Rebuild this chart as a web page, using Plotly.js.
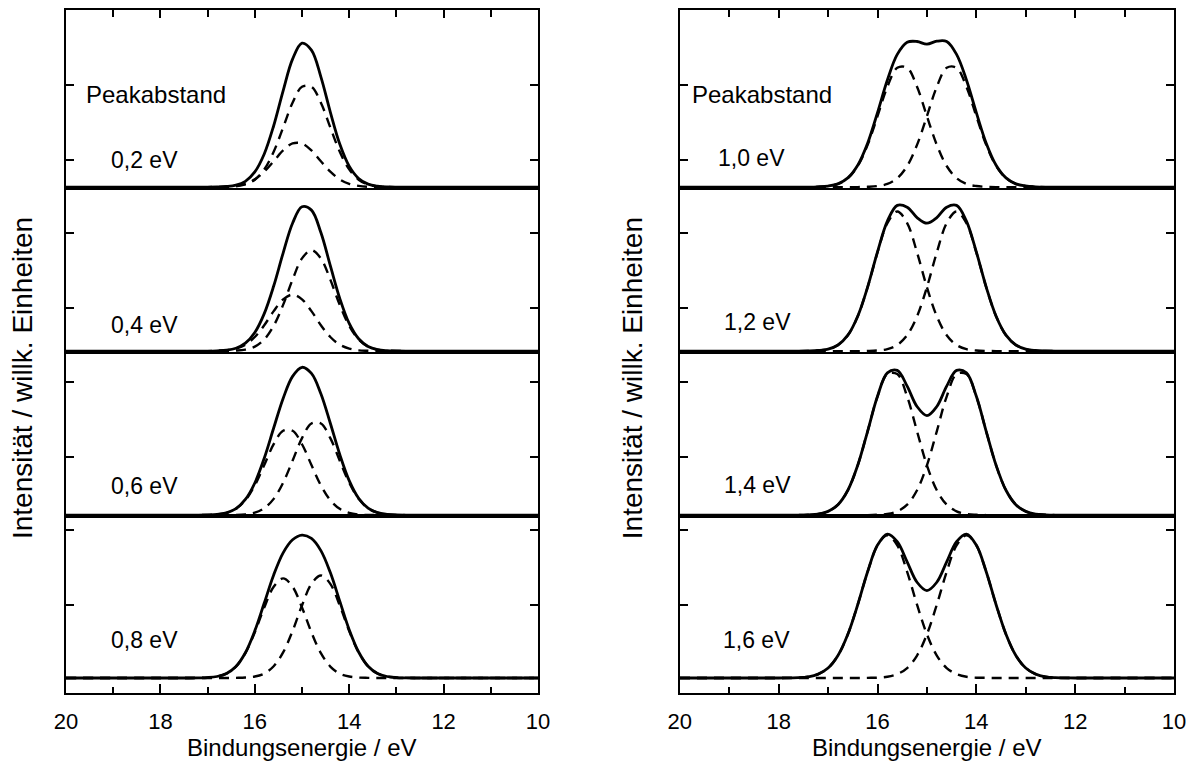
<!DOCTYPE html>
<html>
<head>
<meta charset="utf-8">
<script src="https://cdn.plot.ly/plotly-3.0.1.min.js"></script>
<style>html,body{margin:0;padding:0;background:#fff}#chart{width:1201px;height:770px}</style>
</head>
<body>
<div id="chart"></div>
<script>
// Binding energy grid (eV)
const energy = [20, 18, 17.6, 17.4, 17.2, 17.0, 16.8, 16.6, 16.4, 16.2, 16.0, 15.8, 15.6, 15.4, 15.2, 15.0, 14.8, 14.6, 14.4, 14.2, 14.0, 13.8, 13.6, 13.4, 13.2, 13.0, 12.8, 12.6, 12.4, 12, 10];

// Peak separations (labels)
const separationLabels = ["0,2 eV", "0,4 eV", "0,6 eV", "0,8 eV", "1,0 eV", "1,2 eV", "1,4 eV", "1,6 eV"];

// Sum spectra (solid) and the two component peaks (dashed), arbitrary units
const sum02 = [0,0,0,0,0,0,0.1,0.4,1.3,3.9,10.2,22.3,41.3,64.8,86.1,96.9,92.2,74.2,50.5,29.0,14.1,5.8,2.0,0.6,0.1,0,0,0,0,0,0];
const compA02 = [0,0,0,0,0,0,0,0.1,0.5,1.8,5.0,11.9,23.8,40.1,56.8,67.5,67.5,56.8,40.1,23.8,11.9,5.0,1.8,0.5,0.1,0,0,0,0,0,0];
const compB02 = [0,0,0,0,0,0,0.1,0.2,0.8,2.2,5.2,10.4,17.4,24.7,29.4,29.4,24.7,17.4,10.4,5.2,2.2,0.8,0.2,0.1,0,0,0,0,0,0,0];

const sum04 = [0,0,0,0,0,0,0.2,0.6,1.9,5.3,12.5,25.2,43.8,66.0,86.1,97.2,94.9,79.8,57.5,35.5,18.6,8.3,3.1,1.0,0.3,0.1,0,0,0,0,0];
const compA04 = [0,0,0,0,0,0,0,0.1,0.3,1.0,3.0,7.8,17.0,31.1,48.1,62.4,68.0,62.4,48.1,31.1,17.0,7.8,3.0,1.0,0.3,0.1,0,0,0,0,0];
const compB04 = [0,0,0,0,0,0,0.2,0.5,1.7,4.3,9.5,17.4,26.9,34.8,38.0,34.8,26.9,17.4,9.5,4.3,1.7,0.5,0.2,0,0,0,0,0,0,0,0];

const sum06 = [0,0,0,0,0,0.1,0.4,1.5,4.3,10.5,21.6,38.3,58.6,78.5,93.4,99.5,95.4,81.7,61.8,40.8,23.2,11.3,4.7,1.6,0.5,0.1,0,0,0,0,0];
const compA06 = [0,0,0,0,0,0,0,0,0.1,0.5,1.6,4.6,10.9,21.8,36.6,51.8,61.7,61.7,51.8,36.6,21.8,10.9,4.6,1.6,0.5,0.1,0,0,0,0,0];
const compB06 = [0,0,0,0,0,0.1,0.4,1.5,4.2,10.0,20.0,33.7,47.7,56.8,56.8,47.7,33.7,20.0,10.0,4.2,1.5,0.4,0.1,0,0,0,0,0,0,0,0];

const sum08 = [0,0,0,0,0.1,0.3,1.0,3.0,7.7,17.0,31.7,50.4,69.3,84.2,93.0,96.1,93.9,85.7,70.9,51.7,32.5,17.5,7.9,3.0,1.0,0.3,0.1,0,0,0,0];
const compA08 = [0,0,0,0,0.1,0.3,1.0,2.9,7.7,16.7,30.7,47.4,61.4,67.0,61.4,47.4,30.7,16.7,7.7,2.9,1.0,0.3,0.1,0,0,0,0,0,0,0,0];
const compB08 = [0,0,0,0,0,0,0,0,0.1,0.3,1.0,3.0,7.9,17.2,31.6,48.8,63.3,69.0,63.3,48.8,31.6,17.2,7.9,3.0,1.0,0.3,0.1,0,0,0,0];

const sum10 = [0,0,0,0,0.2,0.7,2.2,6.2,14.7,29.5,50.1,72.1,89.3,97.5,98.0,96.2,98.2,98.0,89.3,72.1,50.1,29.5,14.7,6.2,2.2,0.7,0.2,0,0,0,0];
const compA10 = [0,0,0,0,0.2,0.7,2.1,6.0,14.2,28.4,47.7,67.5,80.3,80.3,67.5,47.7,28.4,14.2,6.0,2.1,0.7,0.2,0,0,0,0,0,0,0,0,0];
const compB10 = [0,0,0,0,0,0,0,0,0,0.2,0.7,2.1,6.0,14.2,28.4,47.7,67.5,80.3,80.3,67.5,47.7,28.4,14.2,6.0,2.1,0.7,0.2,0,0,0,0];

const sum12 = [0,0,0,0.1,0.4,1.3,4.1,10.7,23.5,43.1,66.8,87.5,98.1,96.9,89.9,86.1,89.9,96.9,98.1,87.5,66.8,43.1,23.5,10.7,4.1,1.3,0.4,0.1,0,0,0];
const compA12 = [0,0,0,0.1,0.4,1.3,4.1,10.7,23.4,43.0,66.4,86.2,94.0,86.2,66.4,43.0,23.4,10.7,4.1,1.3,0.4,0.1,0,0,0,0,0,0,0,0,0];
const compB12 = [0,0,0,0,0,0,0,0,0,0.1,0.4,1.3,4.1,10.7,23.4,43.0,66.4,86.2,94.0,86.2,66.4,43.0,23.4,10.7,4.1,1.3,0.4,0.1,0,0,0];

const sum14 = [0,0,0,0.2,0.7,2.5,7.0,16.7,33.5,56.4,80.0,95.7,97.4,86.8,73.1,67.0,73.1,86.8,97.4,95.7,80.0,56.4,33.5,16.7,7.0,2.5,0.7,0.2,0,0,0];
const compA14 = [0,0,0,0.2,0.7,2.5,7.0,16.7,33.5,56.4,79.8,94.9,94.9,79.8,56.4,33.5,16.7,7.0,2.5,0.7,0.2,0,0,0,0,0,0,0,0,0,0];
const compB14 = [0,0,0,0,0,0,0,0,0,0,0.2,0.7,2.5,7.0,16.7,33.5,56.4,79.8,94.9,94.9,79.8,56.4,33.5,16.7,7.0,2.5,0.7,0.2,0,0,0];

const sum16 = [0,0,0.2,0.8,2.6,6.7,15.1,29.4,49.3,71.5,89.4,96.8,91.7,78.1,64.4,58.8,64.4,78.1,91.7,96.8,89.4,71.5,49.3,29.4,15.1,6.7,2.6,0.8,0.2,0,0];
const compA16 = [0,0,0.2,0.8,2.6,6.7,15.1,29.4,49.3,71.4,89.2,96.0,89.2,71.4,49.3,29.4,15.1,6.7,2.6,0.8,0.2,0.1,0,0,0,0,0,0,0,0,0];
const compB16 = [0,0,0,0,0,0,0,0,0,0.1,0.2,0.8,2.6,6.7,15.1,29.4,49.3,71.4,89.2,96.0,89.2,71.4,49.3,29.4,15.1,6.7,2.6,0.8,0.2,0,0];

const sums = [sum02, sum04, sum06, sum08, sum10, sum12, sum14, sum16];
const compsA = [compA02, compA04, compA06, compA08, compA10, compA12, compA14, compA16];
const compsB = [compB02, compB04, compB06, compB08, compB10, compB12, compB14, compB16];

// Text
const xTitle = "Bindungsenergie / eV";
const yTitle = "Intensität / willk. Einheiten";
const headerText = "Peakabstand";
const xTickVals = [20, 18, 16, 14, 12, 10];

// ---------- layout / styling ----------
const FONT = "Liberation Sans, Arial, Helvetica, sans-serif";
const colDomains = [[0, 0.426], [0.554, 1]];
const rowDomains = [[0.7394, 1], [0.4993, 0.7394], [0.2592, 0.4993], [0, 0.2592]];
const rowRanges = [[-0.6, 119.2], [-0.6, 109.8], [-0.6, 109.8], [-10.1, 109.0]];
const rowTicks = [[18.2, 68.7], [29.0, 79.5], [39.1, 89.6], [49.1, 99.6]];
const labelX = [18.33, 18.33, 18.33, 18.33, 18.54, 18.42, 18.42, 18.44];
const labelY = [18.2, 17.6, 19.6, 25.6, 19.6, 19.6, 20.3, 25.6];

const traces = [];
const layout = {
  width: 1201, height: 770,
  margin: {l: 66, r: 27, t: 10, b: 77},
  paper_bgcolor: "#fff", plot_bgcolor: "#fff",
  showlegend: false,
  font: {family: FONT, color: "#000"},
  annotations: []
};

for (let i = 0; i < 8; i++) {
  const col = i < 4 ? 0 : 1;
  const row = i % 4;
  const n = i + 1;
  const xa = "x" + n, ya = "y" + n;
  traces.push({x: energy, y: compsA[i], xaxis: xa, yaxis: ya, type: "scatter", mode: "lines",
    line: {color: "#000", width: 2.4, dash: "10px,7px", shape: "spline", smoothing: 1}, hoverinfo: "skip"});
  traces.push({x: energy, y: compsB[i], xaxis: xa, yaxis: ya, type: "scatter", mode: "lines",
    line: {color: "#000", width: 2.4, dash: "10px,7px", shape: "spline", smoothing: 1}, hoverinfo: "skip"});
  traces.push({x: energy, y: sums[i], xaxis: xa, yaxis: ya, type: "scatter", mode: "lines",
    line: {color: "#000", width: 2.8, shape: "spline", smoothing: 1}, hoverinfo: "skip"});

  const xax = {
    domain: colDomains[col], range: [20, 10], anchor: ya,
    showline: true, linecolor: "#000", linewidth: 2, showgrid: false, zeroline: false,
    tickmode: "array", tickvals: xTickVals, tickcolor: "#000",
    showticklabels: false, ticks: ""
  };
  if (row === 0) {
    Object.assign(xax, {side: "top", mirror: true, ticks: "inside", ticklen: 8, tickwidth: 2,
      minor: {tickmode: "linear", tick0: 0, dtick: 1, ticks: "inside", ticklen: 7, tickwidth: 2, tickcolor: "#000", showgrid: false}});
  } else if (row === 3) {
    Object.assign(xax, {side: "bottom", mirror: true, ticks: "inside", ticklen: 9, tickwidth: 2,
      showticklabels: true, tickfont: {family: FONT, size: 22, color: "#000"}, ticklabelstandoff: 8,
      minor: {tickmode: "linear", tick0: 0, dtick: 1, ticks: "inside", ticklen: 6, tickwidth: 2, tickcolor: "#000", showgrid: false}});
  }
  layout["xaxis" + (n === 1 ? "" : n)] = xax;

  layout["yaxis" + (n === 1 ? "" : n)] = {
    domain: rowDomains[row], range: rowRanges[row], anchor: xa,
    showline: true, linecolor: "#000", linewidth: 2, mirror: "ticks",
    ticks: "inside", ticklen: 8, tickwidth: 2, tickcolor: "#000",
    tickmode: "array", tickvals: rowTicks[row], showticklabels: false,
    showgrid: false, zeroline: false
  };

  layout.annotations.push({xref: xa, yref: ya, x: labelX[i], y: labelY[i], text: separationLabels[i],
    showarrow: false, xanchor: "center", yanchor: "middle", font: {family: FONT, size: 23, color: "#000"}});
  if (row === 0) {
    layout.annotations.push({xref: xa, yref: ya, x: col === 0 ? 19.62 : 19.8, y: 62.0, text: headerText,
      showarrow: false, xanchor: "left", yanchor: "middle", font: {family: FONT, size: 24, color: "#000"}});
  }
}

// Axis titles
[[0.213, -0.0397], [0.777, 0.511]].forEach(([xc, yx]) => {
  layout.annotations.push({xref: "paper", yref: "paper", x: xc, y: -0.0805, text: xTitle, showarrow: false,
    xanchor: "center", yanchor: "middle", font: {family: FONT, size: 24, color: "#000"}});
  layout.annotations.push({xref: "paper", yref: "paper", x: yx, y: 0.4612, text: yTitle, showarrow: false,
    textangle: -90, xanchor: "center", yanchor: "middle", font: {family: FONT, size: 28, color: "#000"}});
});

Plotly.newPlot("chart", traces, layout, {staticPlot: true, displayModeBar: false});
</script>
</body>
</html>
